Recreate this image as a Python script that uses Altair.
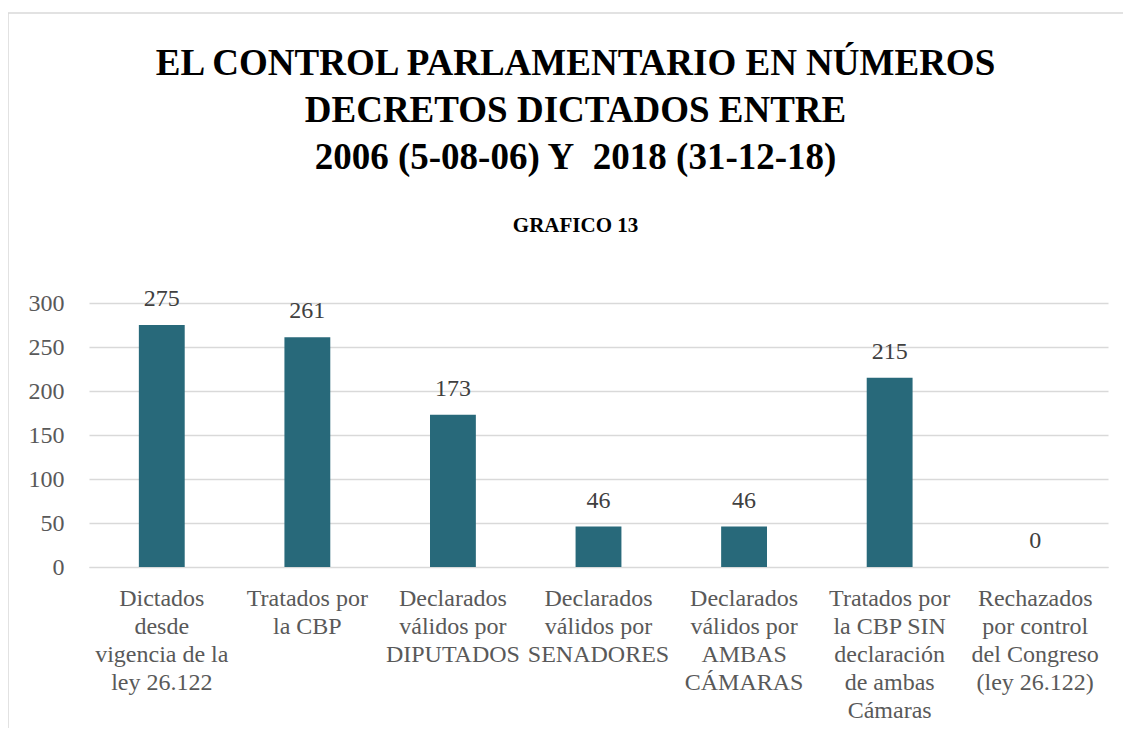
import altair as alt
import pandas as pd

categories = [
    "Dictados|desde|vigencia de la|ley 26.122",
    "Tratados por|la CBP",
    "Declarados|válidos por|DIPUTADOS",
    "Declarados|válidos por|SENADORES",
    "Declarados|válidos por|AMBAS|CÁMARAS",
    "Tratados por|la CBP SIN|declaración|de ambas|Cámaras",
    "Rechazados|por control|del Congreso|(ley 26.122)",
]
values = [275, 261, 173, 46, 46, 215, 0]
y_ticks = [0, 50, 100, 150, 200, 250, 300]

title_lines = [
    "EL CONTROL PARLAMENTARIO EN NÚMEROS",
    "DECRETOS DICTADOS ENTRE",
    "2006 (5-08-06) Y\u00a0\u00a02018 (31-12-18)",
]
subtitle = "GRAFICO 13"

df = pd.DataFrame({"cat": categories, "val": values})

FONT = "Liberation Serif"
BAR = "#28697a"

x_enc = alt.X(
    "cat:N",
    sort=None,
    title=None,
    scale=alt.Scale(paddingInner=0, paddingOuter=0),
    axis=alt.Axis(
        labelExpr="split(datum.label, '|')",
        labelAngle=0,
        labelAlign="center",
        labelBaseline="top",
        labelPadding=19,
        labelLineHeight=28,
        labelFontSize=24,
        labelFont=FONT,
        labelColor="#595959",
        labelLimit=0,
        ticks=False,
        domainColor="#d9d9d9",
        grid=False,
    ),
)

y_enc = alt.Y(
    "val:Q",
    title=None,
    scale=alt.Scale(domain=[0, 300], nice=False),
    axis=alt.Axis(
        values=y_ticks,
        labelFontSize=24,
        labelFont=FONT,
        labelColor="#595959",
        labelPadding=25,
        ticks=False,
        domain=False,
        gridColor="#d9d9d9",
        gridWidth=1.5,
    ),
)

bars = alt.Chart(df).mark_bar(
    width=alt.RelativeBandSize(0.315), color=BAR
).encode(x=x_enc, y=y_enc)

labels = alt.Chart(df).mark_text(
    font=FONT, fontSize=24, color="#404040", dy=-19, baseline="alphabetic"
).encode(x=alt.X("cat:N", sort=None), y="val:Q", text="val:Q")

border = alt.Chart(alt.Data(values=[{"a": 1}])).mark_rect(
    fillOpacity=0, stroke="#d9d9d9", strokeWidth=1.5
).encode(
    x=alt.value(-81), x2=alt.value(1200), y=alt.value(-290), y2=alt.value(600)
)

chart = alt.layer(border, bars, labels).properties(
    width=1019,
    height=264,
    autosize=alt.AutoSizeParams(type="none"),
    padding={"left": 81, "top": 295, "right": 15, "bottom": 161},
    title=alt.TitleParams(
        text=title_lines,
        subtitle=subtitle,
        anchor="middle",
        frame="group",
        dx=-23,
        font=FONT,
        fontSize=37,
        fontWeight="bold",
        color="#000000",
        lineHeight=47,
        subtitleFont=FONT,
        subtitleFontSize=21,
        subtitleFontWeight="bold",
        subtitleColor="#000000",
        subtitlePadding=38,
        offset=-225,
    ),
).configure_view(stroke=None)

chart.save("out.html", embed_options={"renderer": "svg", "actions": False})
